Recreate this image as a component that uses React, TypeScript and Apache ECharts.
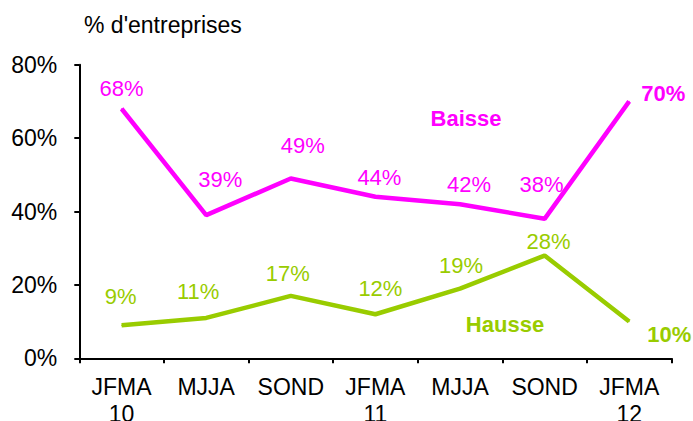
import React, { useEffect, useRef } from "react";
import * as echarts from "echarts";

const categories = ["JFMA\n10", "MJJA", "SOND", "JFMA\n11", "MJJA", "SOND", "JFMA\n12"];
const baisse = [68, 39, 49, 44, 42, 38, 70];
const hausse = [9, 11, 17, 12, 19, 28, 10];
const yTicks = [0, 20, 40, 60, 80];

const baisseOffsets = [[0, -20], [14, -36], [12, -33], [4, -19], [9, -20], [-3, -34], [34, -8]];
const hausseOffsets = [[-1, -29], [-8, -26], [-3, -22], [5, -26], [1, -23], [4, -14], [40, 13]];

const MAGENTA = "#FF00FF";
const GREEN = "#99CC00";
const FONT = "Liberation Sans, Arial, sans-serif";

export default function App() {
  const ref = useRef<HTMLDivElement>(null);
  useEffect(() => {
    if (!ref.current) return;
    const chart = echarts.init(ref.current, undefined, { renderer: "svg" });
    const mk = (vals: number[], offs: number[][], color: string) =>
      vals.map((v, i) => ({
        value: v,
        label: {
          show: true,
          position: "inside",
          offset: offs[i],
          formatter: "{c}%",
          color,
          fontSize: 22,
          fontFamily: FONT,
          fontWeight: i === vals.length - 1 ? "bold" : "normal",
        },
      }));
    chart.setOption({
      animation: false,
      title: {
        text: "% d'entreprises",
        left: 79,
        top: 8,
        textStyle: { fontSize: 23, fontWeight: "normal", color: "#000", fontFamily: FONT },
      },
      grid: {
        left: 79.3,
        right: 21.5,
        top: 64.7,
        bottom: 62.7,
        containLabel: false,
        outerBoundsMode: "none",
      },
      xAxis: {
        type: "category",
        data: categories,
        boundaryGap: true,
        axisLine: { lineStyle: { color: "#000", width: 2 } },
        axisTick: { show: true, length: 5, lineStyle: { color: "#000", width: 2 } },
        axisLabel: { color: "#000", fontSize: 23, fontFamily: FONT, margin: 15, lineHeight: 27, interval: 0 },
      },
      yAxis: {
        type: "value",
        min: yTicks[0],
        max: yTicks[yTicks.length - 1],
        interval: 20,
        axisLine: { show: true, lineStyle: { color: "#000", width: 2 } },
        axisTick: { show: true, length: 5, lineStyle: { color: "#000", width: 2 } },
        splitLine: { show: false },
        axisLabel: { color: "#000", fontSize: 23, fontFamily: FONT, margin: 22, formatter: "{value}%" },
      },
      series: [
        {
          name: "Baisse",
          type: "line",
          data: mk(baisse, baisseOffsets, MAGENTA),
          symbol: "circle",
          symbolSize: 1,
          itemStyle: { color: MAGENTA },
          lineStyle: { color: MAGENTA, width: 4.5 },
          markPoint: {
            symbol: "circle",
            symbolSize: 0,
            data: [
              {
                coord: [4, 65.4],
                label: {
                  show: true,
                  position: "inside",
                  offset: [6, 0],
                  formatter: "Baisse",
                  color: MAGENTA,
                  fontSize: 22,
                  fontWeight: "bold",
                  fontFamily: FONT,
                },
              },
            ],
          },
        },
        {
          name: "Hausse",
          type: "line",
          data: mk(hausse, hausseOffsets, GREEN),
          symbol: "circle",
          symbolSize: 1,
          itemStyle: { color: GREEN },
          lineStyle: { color: GREEN, width: 4.5 },
          markPoint: {
            symbol: "circle",
            symbolSize: 0,
            data: [
              {
                coord: [4, 9.2],
                label: {
                  show: true,
                  position: "inside",
                  offset: [45, 0],
                  formatter: "Hausse",
                  color: GREEN,
                  fontSize: 22,
                  fontWeight: "bold",
                  fontFamily: FONT,
                },
              },
            ],
          },
        },
      ],
    });
    return () => chart.dispose();
  }, []);
  return (
    <div
      ref={ref}
      style={{ position: "fixed", left: 0, top: 0, width: 693, height: 421, background: "#fff" }}
    />
  );
}
